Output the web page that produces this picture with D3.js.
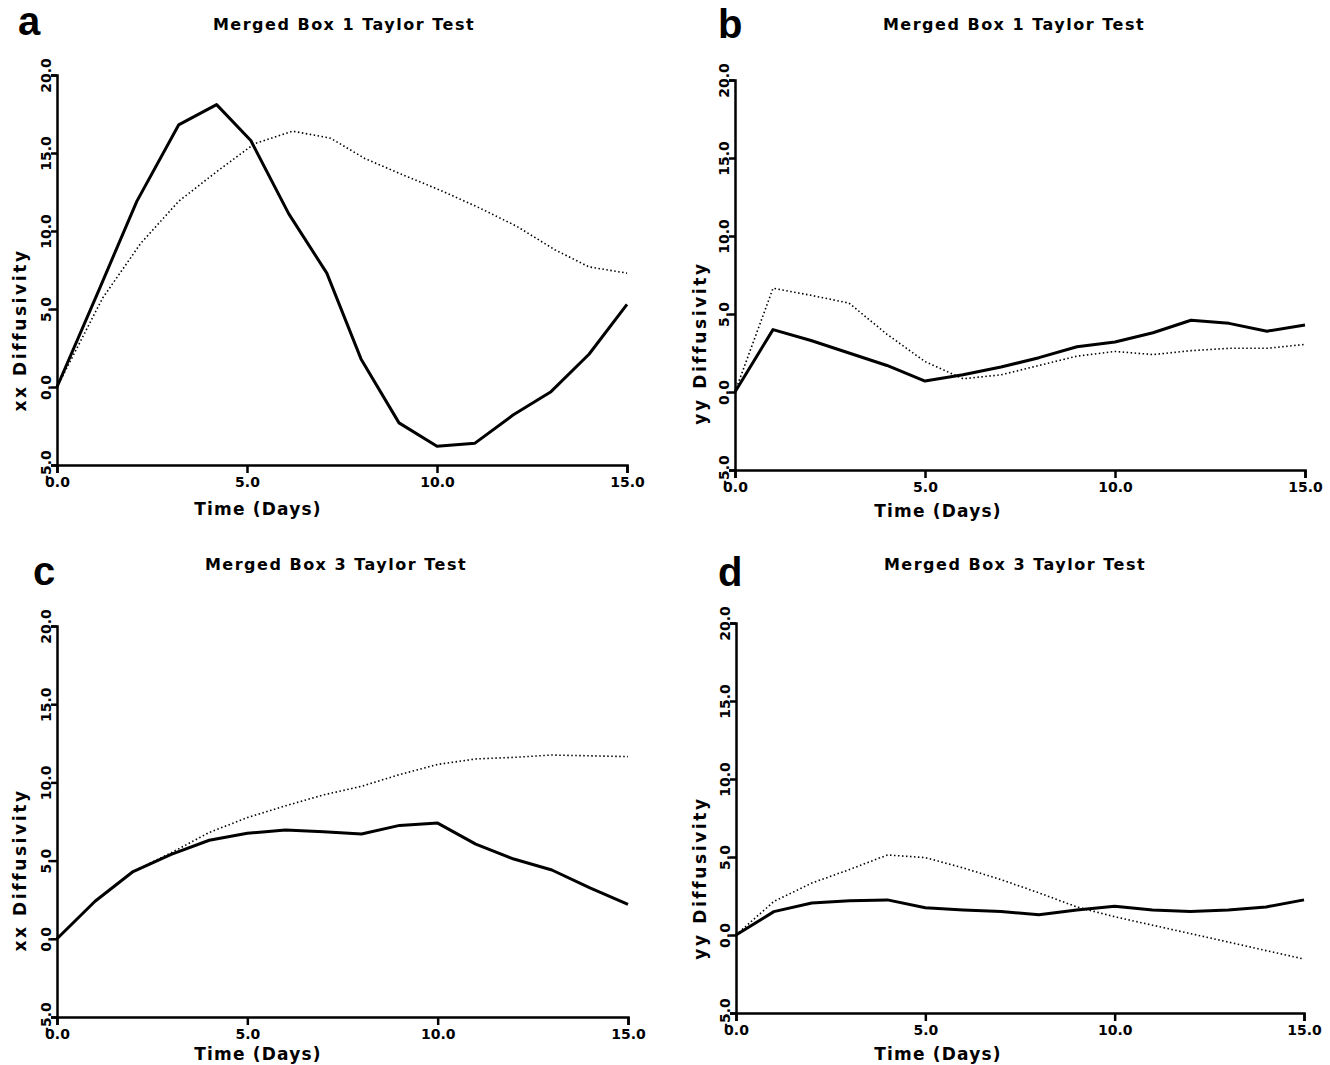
<!DOCTYPE html>
<html>
<head>
<meta charset="utf-8">
<script src="https://cdn.jsdelivr.net/npm/d3@7"></script>
<style>
  body { margin: 0; background: #fff; }
  svg { display: block; background: #fff; }
  .tick text { font-family: "DejaVu Sans", sans-serif; font-weight: bold; font-size: 14px; fill: #000; }
  .domain, .tick line { stroke: #000; stroke-width: 2.5px; }
  .title { font-family: "DejaVu Sans", sans-serif; font-weight: bold; font-size: 16px; letter-spacing: 1.5px; }
  .xlab, .ylab { font-family: "DejaVu Sans", sans-serif; font-weight: bold; font-size: 17px; }
  .xlab { letter-spacing: 1.2px; }
  .ylab { letter-spacing: 2.6px; }
  .letter { font-family: "Liberation Sans", Arial, sans-serif; font-weight: bold; font-size: 40px; }
</style>
</head>
<body>
<div id="chart"></div>
<script>
// time axis (days)
const days = [0, 1, 2, 3, 4, 5, 6, 7, 8, 9, 10, 11, 12, 13, 14, 15];
const daysA = [0, 1.1, 2.1, 3.2, 4.2, 5.1, 6.1, 7.1, 8.0, 9.0, 10.0, 11.0, 12.0, 13.0, 14.0, 15.0];
const daysADot = [0, 1.2, 2.2, 3.2, 4.2, 5.2, 6.2, 7.2, 8.1, 9.1, 10.1, 11.1, 12.1, 13.1, 14.0, 15.0];

const xTicks = [0, 5, 10, 15];
const yTicks = [-5, 0, 5, 10, 15, 20];

// a: Merged Box 1, xx
const aSolid = [0, 6.2, 11.9, 16.8, 18.1, 15.8, 11.1, 7.3, 1.8, -2.3, -3.8, -3.6, -1.8, -0.3, 2.1, 5.3];
const aDotted = [0, 5.7, 9.2, 11.9, 13.8, 15.6, 16.4, 15.95, 14.65, 13.6, 12.6, 11.5, 10.3, 8.8, 7.7, 7.3];
// b: Merged Box 1, yy
const bSolid = [0, 4.0, 3.3, 2.5, 1.7, 0.7, 1.1, 1.6, 2.2, 2.9, 3.2, 3.8, 4.6, 4.4, 3.9, 4.3];
const bDotted = [0, 6.65, 6.2, 5.7, 3.7, 1.95, 0.85, 1.1, 1.7, 2.3, 2.6, 2.4, 2.65, 2.8, 2.8, 3.05];
// c: Merged Box 3, xx
const cSolid = [0, 2.4, 4.3, 5.4, 6.3, 6.75, 6.95, 6.85, 6.7, 7.25, 7.4, 6.05, 5.1, 4.4, 3.25, 2.2];
const cDotted = [0, 2.4, 4.3, 5.5, 6.8, 7.75, 8.5, 9.2, 9.75, 10.5, 11.15, 11.5, 11.6, 11.75, 11.7, 11.65];
// d: Merged Box 3, yy
const dSolid = [0, 1.5, 2.05, 2.2, 2.25, 1.75, 1.6, 1.5, 1.3, 1.6, 1.85, 1.6, 1.5, 1.6, 1.8, 2.25];
const dDotted = [0, 2.15, 3.33, 4.2, 5.13, 4.96, 4.3, 3.55, 2.7, 1.8, 1.17, 0.63, 0.09, -0.45, -1.0, -1.54];

const titles = ["Merged Box 1 Taylor Test", "Merged Box 1 Taylor Test", "Merged Box 3 Taylor Test", "Merged Box 3 Taylor Test"];
const yLabels = ["xx Diffusivity", "yy Diffusivity", "xx Diffusivity", "yy Diffusivity"];
const letters = ["a", "b", "c", "d"];

const panels = [
  { left: 57, right: 627, top: 75, bottom: 465, tx: 344, ty: 30, lx: 18, ly: 35, xlx: 258, xly: 515, ylx: 26, yly: 330,
    solid: d3.zip(daysA, aSolid), dotted: d3.zip(daysADot, aDotted) },
  { left: 735, right: 1305, top: 80, bottom: 470, tx: 1014, ty: 30, lx: 718, ly: 38, xlx: 938, xly: 517, ylx: 706, yly: 343,
    solid: d3.zip(days, bSolid), dotted: d3.zip(days, bDotted) },
  { left: 57, right: 628, top: 626, bottom: 1017, tx: 336, ty: 570, lx: 33, ly: 585, xlx: 258, xly: 1060, ylx: 26, yly: 870,
    solid: d3.zip(days, cSolid), dotted: d3.zip(days, cDotted) },
  { left: 736, right: 1304, top: 623, bottom: 1013, tx: 1015, ty: 570, lx: 718, ly: 586, xlx: 938, xly: 1060, ylx: 706, yly: 878,
    solid: d3.zip(days, dSolid), dotted: d3.zip(days, dDotted) }
];

const svg = d3.select("#chart").append("svg")
  .attr("width", 1330)
  .attr("height", 1065);

const fmt = d => d.toFixed(1);

panels.forEach(function (p, i) {
  const x = d3.scaleLinear().domain([0, 15]).range([p.left, p.right]);
  const y = d3.scaleLinear().domain([-5, 20]).range([p.bottom, p.top]);
  const g = svg.append("g");

  g.append("g")
    .attr("transform", "translate(0," + p.bottom + ")")
    .call(d3.axisBottom(x).tickValues(xTicks).tickSize(8).tickSizeOuter(8).tickPadding(4).tickFormat(fmt));

  const ya = g.append("g")
    .attr("transform", "translate(" + p.left + ",0)")
    .call(d3.axisLeft(y).tickValues(yTicks).tickSize(6).tickSizeOuter(6).tickFormat(fmt));
  // y tick labels run upward along the axis
  ya.selectAll(".tick text")
    .attr("transform", "rotate(-90)")
    .attr("x", 0)
    .attr("y", -6)
    .attr("dy", 0)
    .attr("text-anchor", "middle");

  const line = d3.line().x(d => x(d[0])).y(d => y(d[1]));

  g.append("path")
    .datum(p.dotted)
    .attr("fill", "none")
    .attr("stroke", "#000")
    .attr("stroke-width", 1.6)
    .attr("stroke-dasharray", "1.5,2.5")
    .attr("d", line);

  g.append("path")
    .datum(p.solid)
    .attr("fill", "none")
    .attr("stroke", "#000")
    .attr("stroke-width", 3)
    .attr("stroke-linejoin", "round")
    .attr("d", line);

  g.append("text").attr("class", "title")
    .attr("x", p.tx).attr("y", p.ty)
    .attr("text-anchor", "middle")
    .text(titles[i]);

  g.append("text").attr("class", "letter")
    .attr("x", p.lx).attr("y", p.ly)
    .text(letters[i]);

  g.append("text").attr("class", "xlab")
    .attr("x", p.xlx).attr("y", p.xly)
    .attr("text-anchor", "middle")
    .text("Time (Days)");

  g.append("text").attr("class", "ylab")
    .attr("transform", "translate(" + p.ylx + "," + p.yly + ") rotate(-90)")
    .attr("text-anchor", "middle")
    .text(yLabels[i]);
});
</script>
</body>
</html>
